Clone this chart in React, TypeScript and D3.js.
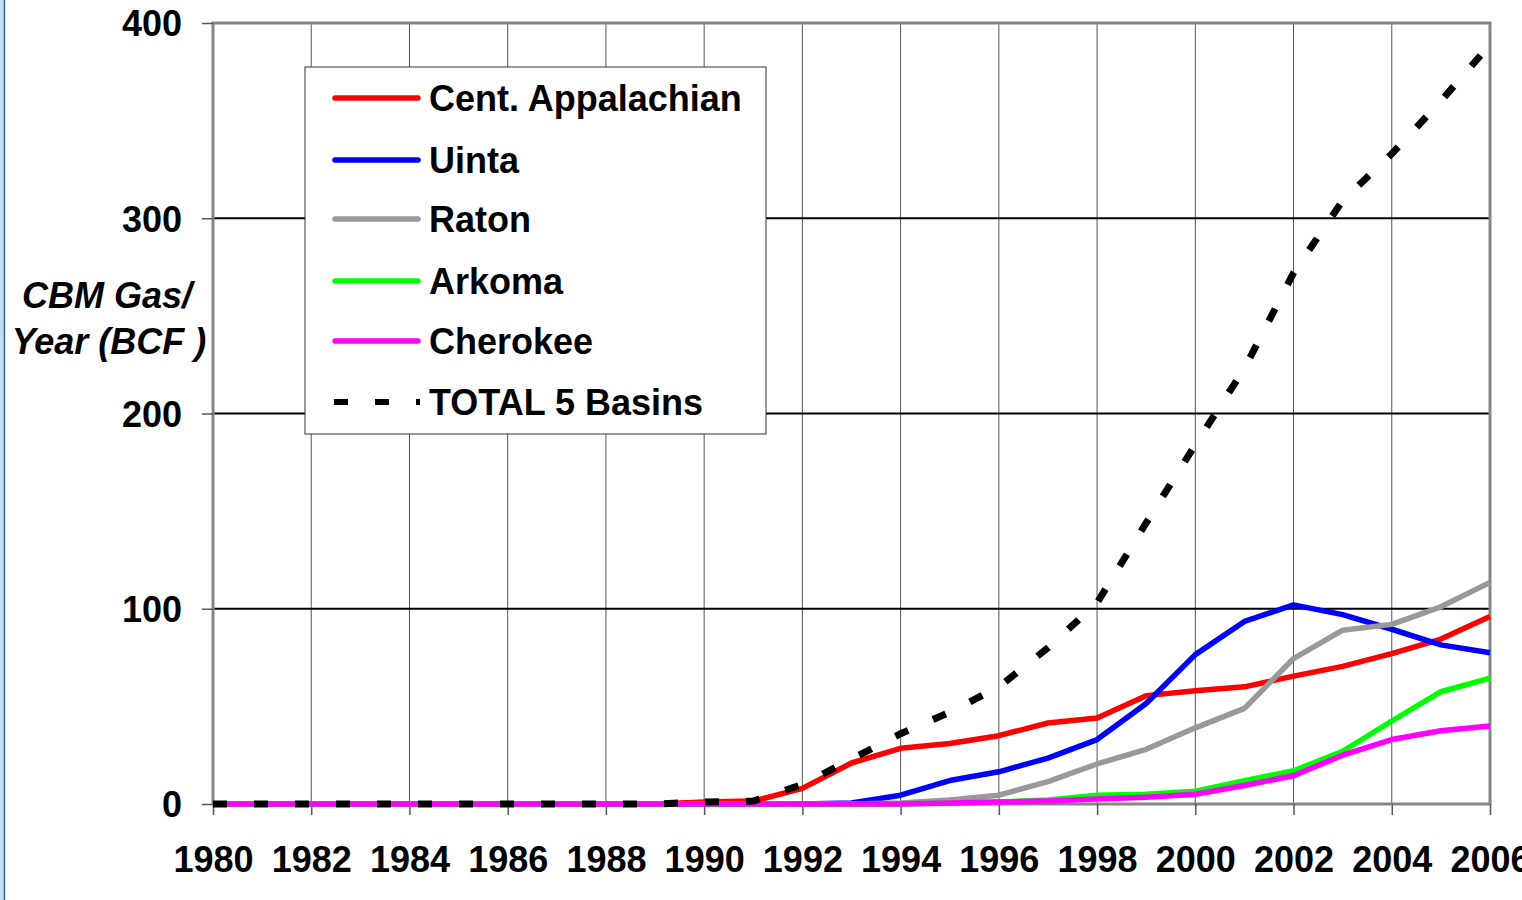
import React, { useEffect, useRef } from 'react';
import * as d3 from 'd3';

const years = d3.range(1980, 2007);

// values (BCF per year), 1980..2006
const centAppalachian = [0, 0, 0, 0, 0, 0, 0, 0, 0, 0, 1, 1.5, 8, 21, 28.5, 31, 35, 41.5, 44, 55.5, 58, 60, 65.5, 70.5, 77, 84.5, 96];
const uinta = [0, 0, 0, 0, 0, 0, 0, 0, 0, 0, 0, 0, 0, 0.5, 4.5, 12, 16.5, 23.5, 33, 51.5, 76.5, 93.5, 102, 97, 89.5, 81.5, 77.5];
const raton = [0, 0, 0, 0, 0, 0, 0, 0, 0, 0, 0, 0, 0, 0, 0.5, 2, 4.5, 11.5, 20.5, 28, 39, 49, 74.5, 89, 92, 101, 113.5];
const arkoma = [0, 0, 0, 0, 0, 0, 0, 0, 0, 0, 0, 0, 0, 0, 0, 0.5, 1, 2, 4.5, 5, 6.5, 12, 17, 27, 42.5, 57.5, 64.5];
const cherokee = [0, 0, 0, 0, 0, 0, 0, 0, 0, 0, 0, 0, 0, 0, 0, 0.5, 1, 1.5, 2.5, 3.5, 5, 9.5, 14.5, 25, 33, 37.5, 40];
const total5Basins = [0, 0, 0, 0, 0, 0, 0, 0, 0, 0, 1, 1.5, 10, 23, 36, 47, 60, 80, 103, 144, 184, 223, 272, 309, 333, 360, 389];

const seriesNames = ['Cent. Appalachian', 'Uinta', 'Raton', 'Arkoma', 'Cherokee', 'TOTAL 5 Basins'];
const seriesColors = ['#ff0000', '#0000ff', '#999999', '#00ff00', '#ff00ff', '#000000'];
const seriesValues = [centAppalachian, uinta, raton, arkoma, cherokee, total5Basins];

const yTicks = [0, 100, 200, 300, 400];
const xTicks = d3.range(1980, 2007, 2);

export default function App() {
  const ref = useRef<SVGSVGElement>(null);

  useEffect(() => {
    const svg = d3.select(ref.current);
    svg.selectAll('*').remove();

    const left = 213, right = 1490, top = 23, bottom = 804;
    const x = d3.scaleLinear().domain([1980, 2006]).range([left, right]);
    const y = d3.scaleLinear().domain([0, 400]).range([bottom, top]);
    const font = '"Liberation Sans", Arial, sans-serif';

    // left blue frame edge
    svg.append('rect').attr('x', 0).attr('y', 0).attr('width', 4).attr('height', 900).attr('fill', '#bcdff5');
    svg.append('line').attr('x1', 4.5).attr('x2', 4.5).attr('y1', 0).attr('y2', 900).attr('stroke', '#3d6685').attr('stroke-width', 1.5);

    const g = svg.append('g');

    // vertical grid
    g.selectAll('.vgrid').data(xTicks.slice(1, -1)).join('line')
      .attr('class', 'vgrid')
      .attr('x1', d => x(d)).attr('x2', d => x(d))
      .attr('y1', top).attr('y2', bottom)
      .attr('stroke', '#555').attr('stroke-width', 1);

    // horizontal grid
    g.selectAll('.hgrid').data(yTicks.slice(1, -1)).join('line')
      .attr('class', 'hgrid')
      .attr('x1', left).attr('x2', right)
      .attr('y1', d => y(d)).attr('y2', d => y(d))
      .attr('stroke', '#000').attr('stroke-width', 2);

    // plot frame
    g.append('rect')
      .attr('x', left).attr('y', top)
      .attr('width', right - left).attr('height', bottom - top)
      .attr('fill', 'none').attr('stroke', '#858585').attr('stroke-width', 3);

    // y axis
    const yAxis = g.append('g')
      .attr('transform', `translate(${left}, 0)`)
      .call(d3.axisLeft(y).tickValues(yTicks).tickSize(11).tickPadding(20).tickFormat(d3.format('d')));
    yAxis.select('.domain').remove();
    yAxis.selectAll('line').attr('stroke', '#555').attr('stroke-width', 1.5);
    yAxis.selectAll('text')
      .attr('font-family', font).attr('font-size', 36).attr('font-weight', 'bold').attr('fill', '#000')
      .attr('dy', '0.36em');

    // x axis
    const xAxis = g.append('g')
      .attr('transform', `translate(0, ${bottom})`)
      .call(d3.axisBottom(x).tickValues(xTicks).tickSize(11).tickPadding(31).tickFormat(d3.format('d')));
    xAxis.select('.domain').remove();
    xAxis.selectAll('line').attr('stroke', '#555').attr('stroke-width', 1.5);
    xAxis.selectAll('text')
      .attr('font-family', font).attr('font-size', 36).attr('font-weight', 'bold').attr('fill', '#000');

    // y title
    const yTitle = g.append('text')
      .attr('font-family', font).attr('font-size', 36).attr('font-weight', 'bold').attr('font-style', 'italic')
      .attr('text-anchor', 'middle');
    yTitle.append('tspan').attr('x', 107).attr('y', 308).text('CBM Gas/');
    yTitle.append('tspan').attr('x', 109).attr('y', 354).text('Year (BCF )');

    // lines
    const line = d3.line<number>()
      .x((_, i) => x(years[i]))
      .y(d => y(d))
      .curve(d3.curveLinear);

    seriesValues.forEach((vals, i) => {
      const isTotal = i === seriesValues.length - 1;
      g.append('path')
        .datum(vals)
        .attr('d', line)
        .attr('fill', 'none')
        .attr('stroke', seriesColors[i])
        .attr('stroke-width', isTotal ? 7 : 5.5)
        .attr('stroke-linejoin', 'round')
        .attr('stroke-dasharray', isTotal ? '14,27' : null);
    });

    // legend
    const legend = g.append('g');
    legend.append('rect')
      .attr('x', 305).attr('y', 67).attr('width', 461).attr('height', 367)
      .attr('fill', '#fff').attr('stroke', '#333').attr('stroke-width', 1);

    const rowY = [98, 160, 219, 281, 341, 402];
    seriesNames.forEach((name, i) => {
      const isTotal = i === seriesNames.length - 1;
      legend.append('line')
        .attr('x1', isTotal ? 334 : 335).attr('x2', isTotal ? 420 : 418)
        .attr('y1', rowY[i]).attr('y2', rowY[i])
        .attr('stroke', seriesColors[i])
        .attr('stroke-width', isTotal ? 6 : 5.5)
        .attr('stroke-linecap', isTotal ? 'butt' : 'round')
        .attr('stroke-dasharray', isTotal ? '14,27' : null);
      legend.append('text')
        .attr('x', 429).attr('y', rowY[i]).attr('dy', '0.36em')
        .attr('font-family', font).attr('font-size', 36).attr('font-weight', 'bold')
        .text(name);
    });
  }, []);

  return (
    <svg ref={ref} width={1522} height={900}
      style={{ position: 'absolute', left: 0, top: 0, background: '#fff' }} />
  );
}
